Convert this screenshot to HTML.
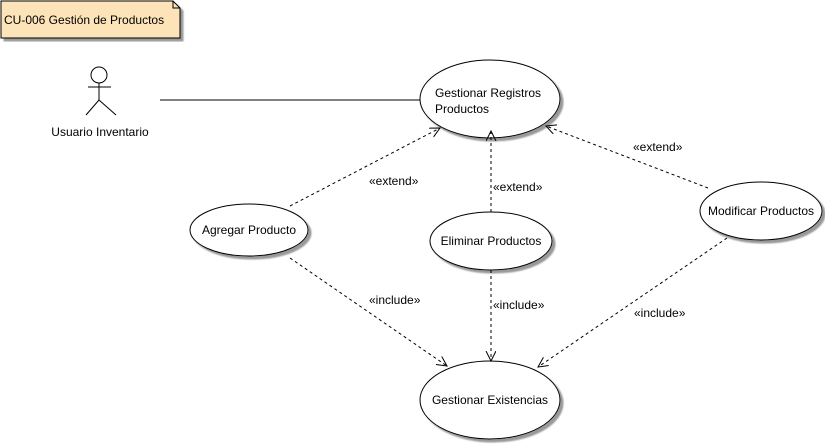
<!DOCTYPE html>
<html><head><style>body{margin:0;background:#fff}svg{display:block}text{font-family:"Liberation Sans",sans-serif;font-size:12px;fill:#000}</style></head><body>
<svg width="825" height="445" xmlns="http://www.w3.org/2000/svg">
<defs>
<marker id="a" markerWidth="12" markerHeight="12" refX="10" refY="5" orient="auto" markerUnits="userSpaceOnUse"><path d="M0,0 L10,5 L0,10" fill="none" stroke="#000" stroke-width="1"/></marker>
<filter id="s"><feDropShadow dx="3" dy="3" stdDeviation="0.8" flood-color="#999"/></filter>
</defs>
<path d="M1,1 H173 L180,8 V38 H1 Z" fill="#fde4b8" stroke="#000" filter="url(#s)"/>
<path d="M173,1 V8 H180" fill="none" stroke="#000"/>
<text x="4" y="24">CU-006 Gestión de Productos</text>
<circle cx="99" cy="75" r="8" fill="#fff" stroke="#000"/>
<path d="M99,83 V100 M88,87 H111 M99,100 L86,115 M99,100 L116,115" stroke="#000" fill="none"/>
<text x="100" y="136" text-anchor="middle">Usuario Inventario</text>
<line x1="160" y1="100" x2="420" y2="100" stroke="#000"/>
<g fill="#fff" stroke="#000" filter="url(#s)">
<ellipse cx="490" cy="99" rx="70" ry="39"/>
<ellipse cx="249" cy="230" rx="59" ry="26"/>
<ellipse cx="491" cy="241" rx="61" ry="29"/>
<ellipse cx="761" cy="211" rx="61" ry="29"/>
<ellipse cx="490" cy="400" rx="70" ry="39"/>
</g>
<g stroke="#000" stroke-dasharray="3,3" fill="none" marker-end="url(#a)">
<line x1="290" y1="206" x2="440" y2="128"/>
<line x1="491" y1="212" x2="491" y2="131"/>
<line x1="708" y1="188" x2="546" y2="126"/>
<line x1="290" y1="258" x2="447" y2="366"/>
<line x1="491" y1="270" x2="491" y2="361"/>
<line x1="727" y1="238" x2="538" y2="367"/>
</g>
<text x="435" y="97">Gestionar Registros</text>
<text x="435" y="113">Productos</text>
<text x="249" y="234" text-anchor="middle">Agregar Producto</text>
<text x="491" y="245" text-anchor="middle">Eliminar Productos</text>
<text x="761" y="215" text-anchor="middle">Modificar Productos</text>
<text x="490" y="404" text-anchor="middle">Gestionar Existencias</text>
<text x="369" y="185">«extend»</text>
<text x="493" y="191">«extend»</text>
<text x="633" y="151">«extend»</text>
<text x="369" y="304">«include»</text>
<text x="493" y="309">«include»</text>
<text x="634" y="317">«include»</text>
</svg>
</body></html>
